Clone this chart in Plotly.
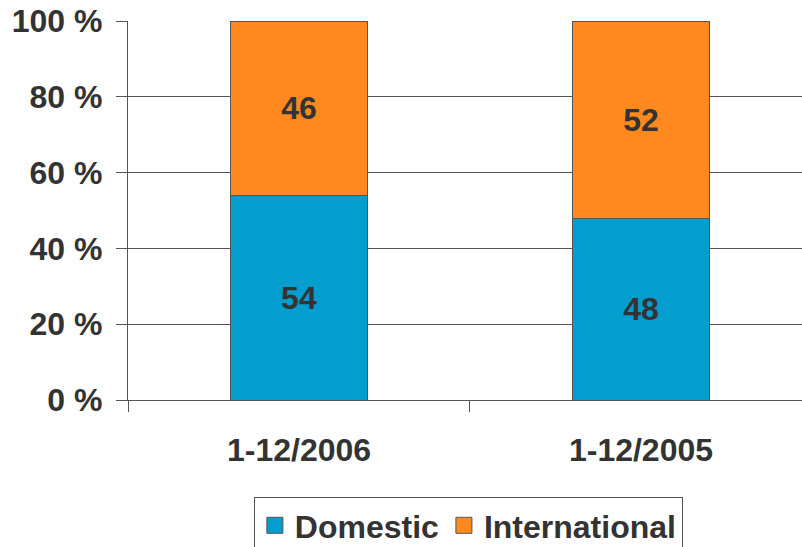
import plotly.graph_objects as go

# Share of passengers by market, per period (percent)
periods = ["1-12/2006", "1-12/2005"]
domestic = [54, 48]
international = [46, 52]
y_ticks = [0, 20, 40, 60, 80, 100]
y_tick_labels = [f"{v} %" for v in y_ticks]

BLUE = "#039DCE"
ORANGE = "#FF891E"
EDGE = "#555555"
TEXT = "#333333"
FONT = "Liberation Sans, Arial, sans-serif"
SIZE = 32

fig = go.Figure()

for name, vals, color in [("Domestic", domestic, BLUE),
                          ("International", international, ORANGE)]:
    fig.add_trace(go.Bar(
        x=periods, y=vals, name=name,
        marker=dict(color=color, line=dict(color=EDGE, width=1)),
        width=0.4,
        text=[str(v) for v in vals], texttemplate="%{text}",
        textposition="inside", insidetextanchor="middle",
        textangle=0,
        textfont=dict(family=FONT, size=SIZE, color=TEXT, weight="bold"),
        showlegend=False,
    ))

# Legend entries with larger square swatches
for name, color in [("Domestic", BLUE), ("International", ORANGE)]:
    fig.add_trace(go.Scatter(
        x=[None], y=[None], mode="markers", name=name,
        marker=dict(symbol="square", size=20, color=color,
                    line=dict(color=EDGE, width=1)),
    ))

fig.update_layout(
    barmode="stack",
    width=802, height=547,
    margin=dict(l=128, r=0, t=21, b=147),
    plot_bgcolor="white", paper_bgcolor="white",
    font=dict(family=FONT, size=SIZE, color=TEXT, weight="bold"),
    legend=dict(
        orientation="h", x=0.505, xanchor="center",
        yref="container", y=0.0914, yanchor="top",
        bordercolor=EDGE, borderwidth=1, traceorder="normal",
        font=dict(family=FONT, size=SIZE, color=TEXT, weight="bold"),
        itemsizing="trace",
    ),
    xaxis=dict(
        type="category", range=[-0.5, 1.4708],
        tickson="boundaries", ticks="outside", ticklen=11, tickcolor=EDGE,
        showline=True, linecolor=EDGE, linewidth=1.3,
        showgrid=False, ticklabelstandoff=21,
    ),
    yaxis=dict(
        range=[0, 100], tickvals=y_ticks, ticktext=y_tick_labels,
        ticks="outside", ticklen=11, tickcolor=EDGE,
        showline=True, linecolor=EDGE, linewidth=1.3,
        showgrid=True, gridcolor=EDGE, gridwidth=1.3,
        zeroline=False, ticklabelstandoff=7,
    ),
)

fig.write_html("out.html")
